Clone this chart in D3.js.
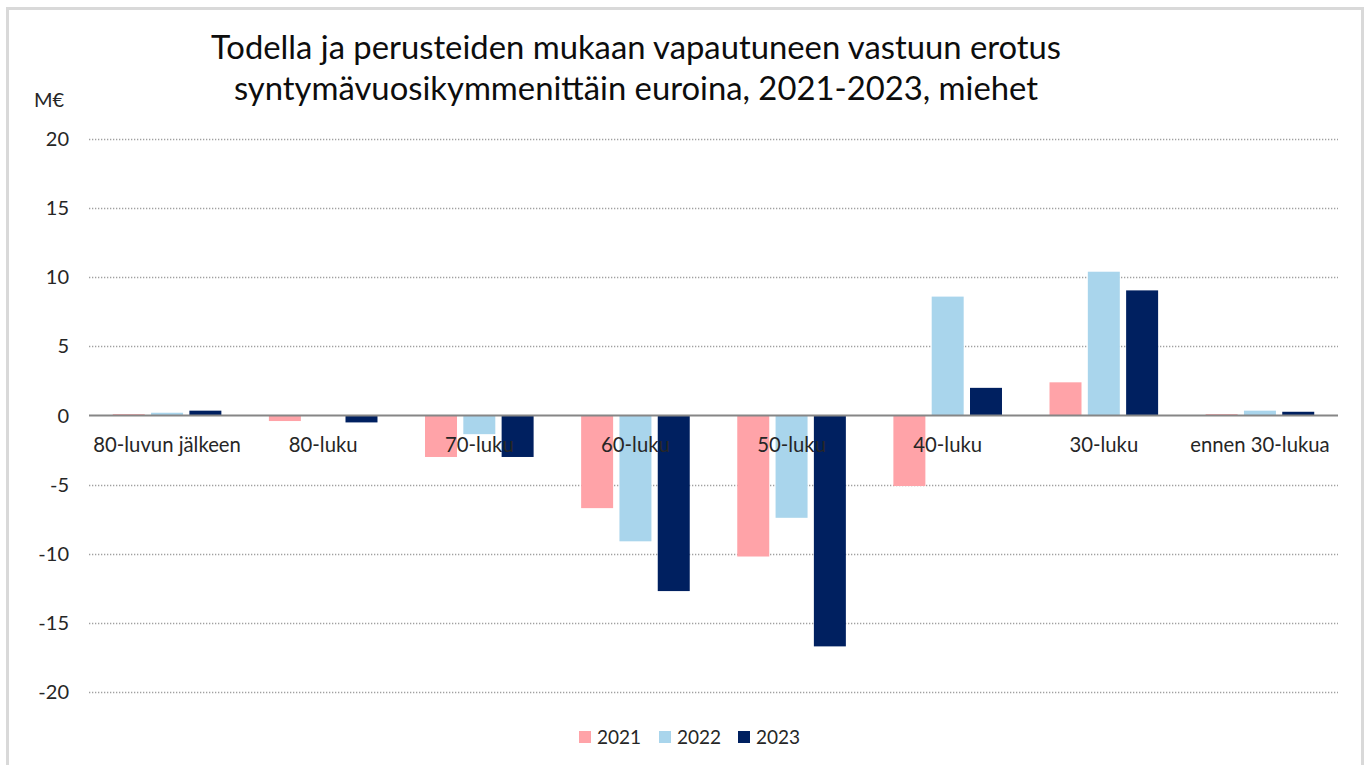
<!DOCTYPE html>
<html>
<head>
<meta charset="utf-8">
<script src="https://cdn.jsdelivr.net/npm/d3@7"></script>
<style>
  body { margin: 0; background: #fff; }
  text { font-family: Lato, "Open Sans", sans-serif; fill: #262626; }
</style>
</head>
<body>
<div id="chart"></div>
<script>
// categories and series (M€)
var categories = ["80-luvun jälkeen", "80-luku", "70-luku", "60-luku", "50-luku", "40-luku", "30-luku", "ennen 30-lukua"];
var years = ["2021", "2022", "2023"];
var values2021 = [0.1, -0.4, -3.0, -6.7, -10.2, -5.1, 2.4, 0.1];
var values2022 = [0.2, 0.0, -1.35, -9.1, -7.4, 8.6, 10.4, 0.35];
var values2023 = [0.35, -0.5, -3.0, -12.7, -16.7, 2.0, 9.05, 0.27];
var yTicks = [20, 15, 10, 5, 0, -5, -10, -15, -20];
var titleLines = ["Todella ja perusteiden mukaan vapautuneen vastuun erotus",
                  "syntymävuosikymmenittäin euroina, 2021-2023, miehet"];

var series = [values2021, values2022, values2023];
var colors = ["#FFA3A8", "#A9D5EC", "#002060"];

//Width and height
var w = 1367;
var h = 765;

var svg = d3.select("#chart")
  .append("svg")
  .attr("width", w)
  .attr("height", h);

// chart frame
svg.append("rect")
  .attr("x", 7.5)
  .attr("y", 8.5)
  .attr("width", 1355)
  .attr("height", 800)
  .attr("fill", "#fff")
  .attr("stroke", "#d9d9d9")
  .attr("stroke-width", 3);

// scales
var y = d3.scaleLinear().domain([-20, 20]).range([692, 139]);

var x0 = d3.scaleBand()
  .domain(categories)
  .range([89, 1338])
  .padding(0);

var x1 = d3.scaleBand()
  .domain(years)
  .range([0, 108.6])
  .paddingInner(0.165)
  .paddingOuter(0);

// gridlines
svg.append("g")
  .selectAll("line")
  .data(yTicks.filter(function(d) { return d != 0; }))
  .enter()
  .append("line")
  .attr("x1", 89)
  .attr("x2", 1338)
  .attr("y1", function(d) { return Math.round(y(d)) + 0.5; })
  .attr("y2", function(d) { return Math.round(y(d)) + 0.5; })
  .attr("stroke", "#a0a0a0")
  .attr("stroke-width", 1.3)
  .attr("stroke-dasharray", "1.3,1.7");

// y tick labels
svg.append("g")
  .selectAll("text")
  .data(yTicks)
  .enter()
  .append("text")
  .attr("x", 69)
  .attr("y", function(d) { return y(d); })
  .attr("dy", "0.35em")
  .attr("text-anchor", "end")
  .attr("font-size", 20)
  .text(function(d) { return d; });

svg.append("text")
  .attr("x", 34)
  .attr("y", 100)
  .attr("dy", "0.35em")
  .attr("font-size", 20)
  .text("M€");

// bars
var groups = svg.append("g")
  .selectAll("g")
  .data(categories)
  .enter()
  .append("g")
  .attr("transform", function(d) {
    return "translate(" + (x0(d) + x0.bandwidth() / 2 - 54.3) + ",0)";
  });

groups.selectAll("rect")
  .data(function(d, i) {
    return years.map(function(yr, j) { return { year: yr, value: series[j][i], color: colors[j] }; });
  })
  .enter()
  .append("rect")
  .attr("x", function(d) { return x1(d.year); })
  .attr("width", x1.bandwidth())
  .attr("y", function(d) { return y(Math.max(0, d.value)); })
  .attr("height", function(d) { return Math.abs(y(d.value) - y(0)); })
  .attr("fill", function(d) { return d.color; });

// zero line
svg.append("line")
  .attr("x1", 89)
  .attr("x2", 1338)
  .attr("y1", y(0))
  .attr("y2", y(0))
  .attr("stroke", "#868686")
  .attr("stroke-width", 2);

// category labels
svg.append("g")
  .selectAll("text")
  .data(categories)
  .enter()
  .append("text")
  .attr("x", function(d) { return x0(d) + x0.bandwidth() / 2; })
  .attr("y", 445)
  .attr("dy", "0.35em")
  .attr("text-anchor", "middle")
  .attr("font-size", 20.3)
  .text(function(d) { return d; });

// title
svg.append("g")
  .selectAll("text")
  .data(titleLines)
  .enter()
  .append("text")
  .attr("x", 636)
  .attr("y", function(d, i) { return 48 + i * 41; })
  .attr("dy", "0.35em")
  .attr("text-anchor", "middle")
  .attr("font-size", 32.8)
  .attr("fill", "#000")
  .style("fill", "#0d0d0d")
  .text(function(d) { return d; });

// legend
var legend = svg.append("g")
  .selectAll("g")
  .data(years)
  .enter()
  .append("g")
  .attr("transform", function(d, i) { return "translate(" + [579, 659, 738][i] + ",737)"; });

legend.append("rect")
  .attr("x", 0)
  .attr("y", -6)
  .attr("width", 12)
  .attr("height", 12)
  .attr("fill", function(d, i) { return colors[i]; });

legend.append("text")
  .attr("x", 18)
  .attr("y", 0)
  .attr("dy", "0.35em")
  .attr("font-size", 19)
  .text(function(d) { return d; });
</script>
</body>
</html>
